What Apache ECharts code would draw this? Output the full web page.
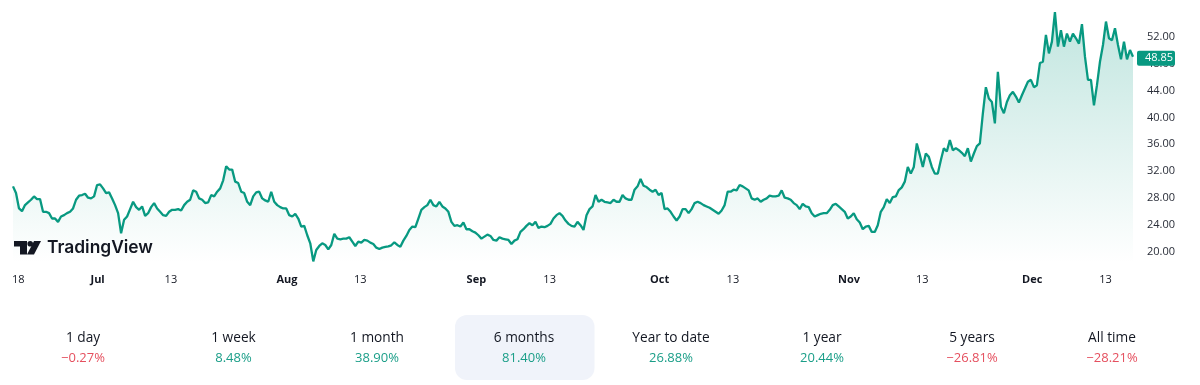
<!DOCTYPE html>
<html><head><meta charset="utf-8">
<style>html,body{margin:0;padding:0;background:#fff}#c{width:1200px;height:385px}</style>
<script src="https://cdn.jsdelivr.net/npm/echarts@6/dist/echarts.min.js"></script>
</head><body><div id="c"></div>
<script>
const pricesJulAug=[29.5,28.5,26.2,25.8,26.7,27.1,27.5,28.0,27.6,27.6,25.7,25.7,25.5,24.7,24.7,24.2,25.0,25.2,25.5,25.7,26.2,27.5,28.1,28.2,28.4,27.8,27.7,28.0,29.7,29.8,29.2,28.5,28.6,27.7,26.7,25.5,22.5,24.5,25.0,26.1,27.2,26.4,26.0,26.5,25.1,25.5,26.4,27.0,26.2,25.7,25.2,25.1,25.7,26.0,26.0,26.1,25.9,26.7,27.2,27.5,28.9,28.7,27.7,27.5,27.0,27.1,28.2,28.0,28.7,29.2,30.4,32.5,32.0,32.0,30.2,30.0,28.7,28.5,27.2,26.7,28.0,28.6,28.7,27.7,27.4,27.2,28.7,27.2,26.7,26.4,26.2,26.2,25.2,25.0,25.4,24.7,23.5,23.6,22.2,21.0,18.3,20.0,20.6,21.0,20.75,20.1,20.75,22.4,21.7,21.6,21.7,21.7,21.9,21.25,20.6,21.25,21.1,21.5,21.4,21.1,20.9,20.35,20.15,20.35,20.45,20.55,20.7,21.15,20.75];
const pricesSepOct=[20.5,21.4,22.1,23.0,23.5,23.4,24.7,26.0,26.4,26.7,27.5,26.7,26.5,27.2,26.5,26.2,25.7,24.2,23.6,23.7,23.5,24.1,23.1,23.1,22.8,22.6,22.2,21.7,22.0,22.3,22.1,21.5,21.4,21.9,21.7,21.6,21.5,20.9,21.4,21.6,22.7,23.1,23.6,24.0,23.7,24.2,23.3,23.5,23.4,23.6,23.9,24.7,25.2,25.5,25.1,24.4,23.9,23.6,23.5,24.2,23.7,23.0,25.2,26.1,26.5,28.2,27.2,27.5,27.2,27.1,27.0,27.5,27.2,27.2,28.2,27.7,27.5,27.5,29.0,29.5,30.6,29.6,29.4,29.0,28.7,29.0,28.2,28.5,26.1,26.2,25.7,25.0,24.4,25.0,26.1,26.1,25.5,26.1,27.0,27.2,27.0,26.7,26.5,26.3,26.0,25.7,25.4,25.9,26.7,28.7,28.7,29.0,28.9,29.7,29.5,29.2,28.9,27.7,27.5,27.7,27.2,27.5,27.7,28.1,28.0,28.0,28.1,28.9,27.8,27.7,27.5,27.0,26.7,26.1];
const pricesNovDec=[26.9,26.5,26.4,25.5,25.0,25.2,25.4,25.5,25.5,26.0,26.7,26.9,26.5,26.1,25.7,24.7,25.0,25.5,24.6,24.1,23.1,23.5,23.6,22.7,22.7,23.7,25.7,26.4,27.6,27.0,27.9,28.0,28.95,29.35,30.2,32.4,31.4,32.4,35.9,34.2,32.4,34.4,33.9,32.4,31.4,31.4,33.4,35.2,34.7,36.4,34.9,35.2,34.9,34.5,34.0,35.2,33.2,34.4,35.5,35.9,40.4,44.3,42.6,42.1,38.9,46.6,41.4,40.4,42.1,43.1,43.6,42.9,42.0,43.1,44.1,45.1,45.4,44.3,44.6,47.9,48.1,52.1,49.35,51.1,55.5,50.35,52.8,50.35,52.3,51.1,52.3,51.6,50.8,53.7,48.85,45.4,45.4,41.6,44.6,48.1,50.6,54.1,51.6,51.3,53.1,50.6,48.45,51.1,48.45,49.85,48.85];
const prices=pricesJulAug.concat(pricesSepOct,pricesNovDec);
const yTicks=[20,24,28,32,36,40,44,48,52];
const DAY=86400000;
const firstTime=Date.UTC(2024,5,18)-0.85*DAY;
const lastTime=Date.UTC(2024,5,18)+182.5*DAY;
const xTickDates=[[2024,5,18],[2024,6,1],[2024,6,13],[2024,7,1],[2024,7,13],[2024,8,1],[2024,8,13],[2024,9,1],[2024,9,13],[2024,10,1],[2024,10,13],[2024,11,1],[2024,11,13]];
const xTickLabels=['18','Jul','13','Aug','13','Sep','13','Oct','13','Nov','13','Dec','13'];
const periodNames=['1 day','1 week','1 month','6 months','Year to date','1 year','5 years','All time'];
const periodChanges=['−0.27%','8.48%','38.90%','81.40%','26.88%','20.44%','−26.81%','−28.21%'];
const periodCenters=[83,233.5,377,524,671,822,972,1112];
const GREEN='#089981',TEXTGREEN='#1a9e88',RED='#e5505f',FONT='"Open Sans","Noto Sans",sans-serif';

const xTicks=xTickDates.map(d=>Date.UTC(d[0],d[1],d[2]));
const step=(lastTime-firstTime)/(prices.length-1);
const seriesData=prices.map((v,i)=>[firstTime+i*step,v]);
const periodGraphics=[];
periodGraphics.push({type:'rect',shape:{x:455,y:315,width:139.5,height:65,r:12},style:{fill:'#f0f3fa'},z:1});
periodNames.forEach((n,i)=>{
  periodGraphics.push({type:'text',x:periodCenters[i],y:338,z:2,style:{text:n,fill:'#131722',font:'13.7px '+FONT,align:'center',verticalAlign:'middle'}});
  periodGraphics.push({type:'text',x:periodCenters[i],y:358.5,z:2,style:{text:periodChanges[i],fill:periodChanges[i][0]==='−'?RED:TEXTGREEN,font:'13px '+FONT,align:'center',verticalAlign:'middle'}});
});
const logo=[
 {type:'polygon',z:5,shape:{points:[[14,241],[27,241],[27,254.5],[20,254.5],[20,246.5],[14,246.5]]},style:{fill:'#131722'}},
 {type:'circle',z:5,shape:{cx:30.2,cy:243.8,r:2.8},style:{fill:'#131722'}},
 {type:'polygon',z:5,shape:{points:[[34,241],[41,241],[34,254.5],[27,254.5]]},style:{fill:'#131722'}},
 {type:'text',z:5,x:47,y:248,style:{text:'TradingView',fill:'#131722',font:'600 17.4px Inter,sans-serif',align:'left',verticalAlign:'middle'}}
];
const chart=echarts.init(document.getElementById('c'),null,{renderer:'canvas'});
chart.setOption({
  animation:false,
  backgroundColor:'#fff',
  grid:{left:13,right:67,top:8.8,height:254.6},
  xAxis:{type:'value',min:firstTime,max:lastTime,scale:true,
    axisLine:{show:false},axisTick:{show:false},splitLine:{show:false},
    axisLabel:{customValues:xTicks,margin:11,hideOverlap:false,color:'#131722',fontSize:11,fontFamily:FONT,
      formatter:function(v){const i=xTicks.indexOf(+v);const s=xTickLabels[i];return /^\d/.test(s)?s:'{m|'+s+'}';},
      rich:{m:{fontWeight:'bold',fontSize:11,fontFamily:FONT,color:'#131722'}}}},
  yAxis:{type:'value',position:'right',min:18,max:56,
    axisLine:{show:false},axisTick:{show:false},splitLine:{show:false},
    axisLabel:{customValues:yTicks,margin:14,color:'#2a2e39',fontSize:11,fontFamily:FONT,formatter:v=>'{t|'+Number(v).toFixed(2)+'}',
      rich:{t:{padding:[3,0,0,0],color:'#2a2e39',fontSize:11,fontFamily:FONT}}}},
  series:[{type:'line',data:seriesData,showSymbol:false,symbol:'none',smooth:false,
    lineStyle:{color:GREEN,width:2.3},itemStyle:{color:GREEN},
    areaStyle:{color:{type:'linear',x:0,y:0,x2:0,y2:1,colorStops:[{offset:0,color:'rgba(8,153,129,0.36)'},{offset:1,color:'rgba(8,153,129,0)'}]}},
    endLabel:{show:true,formatter:p=>p.value[1].toFixed(2),distance:4,offset:[0,1.5],backgroundColor:GREEN,color:'#fff',fontSize:11,fontFamily:FONT,padding:[2,6,2,8],borderRadius:2,width:24,height:11,lineHeight:11}}
  ],
  graphic:{elements:periodGraphics.concat(logo)}
});
</script></body></html>
